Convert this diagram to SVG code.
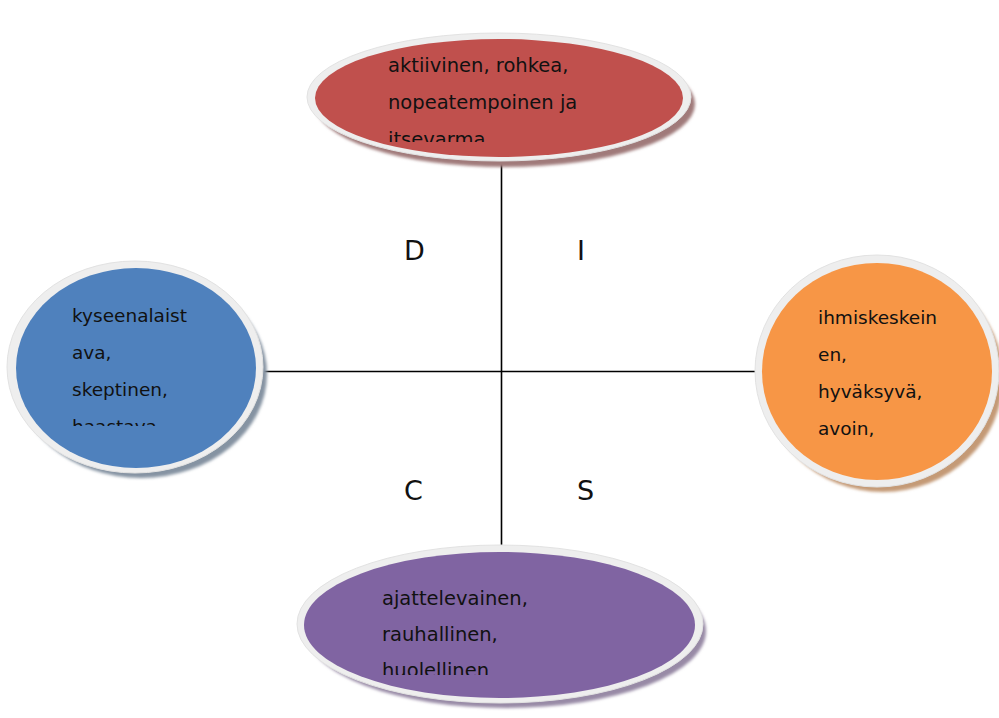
<svg xmlns="http://www.w3.org/2000/svg" width="999" height="718" viewBox="0 0 999 718">
<style>
.rim{fill:#eeeeee;stroke:#e2e2e2;stroke-width:1}
.lbl{font-family:"DejaVu Sans","Liberation Sans",sans-serif;font-size:19.5px;fill:#111}
.lbl2{font-family:"DejaVu Sans","Liberation Sans",sans-serif;font-size:18.5px;fill:#111}
.big{font-family:"DejaVu Sans","Liberation Sans",sans-serif;font-size:27px;fill:#111}
.ax{stroke:#000;stroke-width:1.6;fill:none}
</style>
<defs>
<filter id="blur" x="-10%" y="-10%" width="120%" height="120%"><feGaussianBlur stdDeviation="1.5"/></filter>
<clipPath id="cD"><rect x="380" y="40" width="300" height="102"/></clipPath>
<clipPath id="cC"><rect x="60" y="290" width="200" height="136"/></clipPath>
<clipPath id="cS"><rect x="370" y="570" width="300" height="105"/></clipPath>
</defs>
<rect width="999" height="718" fill="#fff"/>
<g id="connectors">
<line class="ax" x1="501.5" y1="160" x2="501.5" y2="546"/>
<line class="ax" x1="262" y1="371.5" x2="755" y2="371.5"/>
</g>
<g id="node-top">
<ellipse cx="505" cy="104" rx="190" ry="63" fill="#a07a7a" filter="url(#blur)"/>
<ellipse class="rim" cx="499" cy="97" rx="192" ry="64"/>
<ellipse cx="499" cy="98" rx="184" ry="59" fill="#C0504D"/>
<g clip-path="url(#cD)">
<text class="lbl" x="388" y="72">aktiivinen, rohkea,</text>
<text class="lbl" x="388" y="109">nopeatempoinen ja</text>
<text class="lbl" x="388" y="146">itsevarma</text>
</g>
</g>
<g id="node-left">
<ellipse cx="141" cy="374" rx="126" ry="104" fill="#8593a2" filter="url(#blur)"/>
<ellipse class="rim" cx="135" cy="367" rx="128" ry="106"/>
<ellipse cx="136" cy="368" rx="120" ry="100" fill="#4F81BD"/>
<g clip-path="url(#cC)">
<text class="lbl2" x="72" y="322">kyseenalaist</text>
<text class="lbl2" x="72" y="359">ava,</text>
<text class="lbl2" x="72" y="396">skeptinen,</text>
<text class="lbl2" x="72" y="433">haastava</text>
</g>
</g>
<g id="node-right">
<ellipse cx="883" cy="378" rx="120" ry="114" fill="#c49a76" filter="url(#blur)"/>
<ellipse class="rim" cx="877" cy="371" rx="122" ry="116"/>
<ellipse cx="877" cy="371.5" rx="115" ry="108.5" fill="#F79646"/>
<text class="lbl2" x="818" y="324">ihmiskeskein</text>
<text class="lbl2" x="818" y="361">en,</text>
<text class="lbl2" x="818" y="398">hyväksyvä,</text>
<text class="lbl2" x="818" y="435">avoin,</text>
</g>
<g id="node-bottom">
<ellipse cx="506" cy="631" rx="200" ry="77" fill="#988aa6" filter="url(#blur)"/>
<ellipse class="rim" cx="500" cy="624" rx="203" ry="79"/>
<ellipse cx="499.5" cy="625" rx="195.5" ry="73" fill="#8064A2"/>
<g clip-path="url(#cS)">
<text class="lbl" x="382" y="605">ajattelevainen,</text>
<text class="lbl" x="382" y="641">rauhallinen,</text>
<text class="lbl" x="382" y="677">huolellinen</text>
</g>
</g>
<g id="quadrant-labels">
<text class="big" x="404" y="260">D</text>
<text class="big" x="577" y="260">I</text>
<text class="big" x="404" y="500">C</text>
<text class="big" x="577" y="500">S</text>
</g>
</svg>
